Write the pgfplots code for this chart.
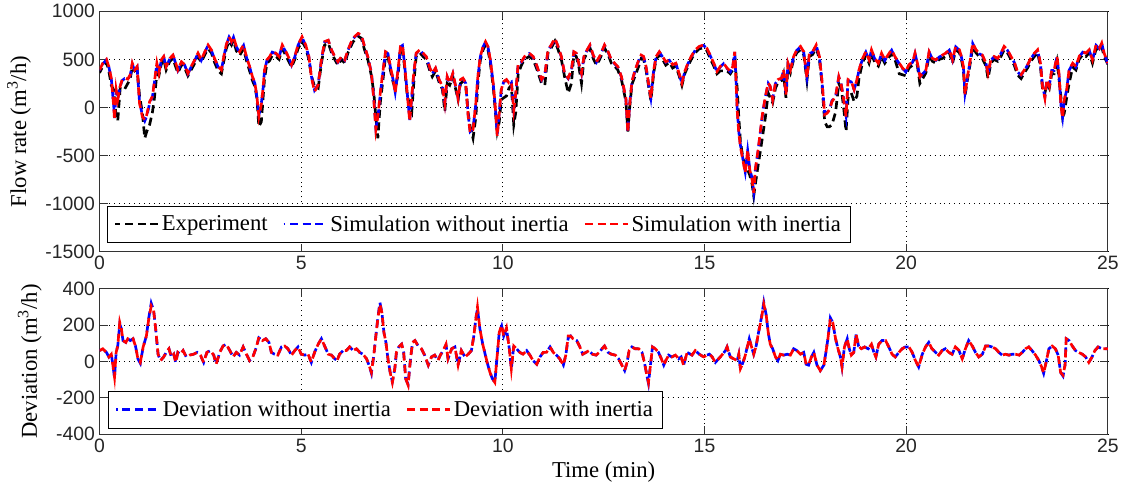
\documentclass[border=0pt]{standalone}
\usepackage{fontspec}
\setmainfont{Liberation Serif}
\newfontfamily\tickfont{Liberation Sans}
\usepackage{pgfplots}
\pgfplotsset{compat=1.18}
\usepackage{pgfplotstable}

% flow rate: t (min), experiment, simulation without / with inertia
\pgfplotstableread{
t exp sim0 sim1
0.00 360 385 390
0.08 430 455 460
0.17 470 495 500
0.23 380 420 425
0.29 230 300 305
0.35 180 20 10
0.37 100 -110 -130
0.41 -100 170 185
0.45 -140 90 80
0.51 200 220 220
0.56 180 280 290
0.62 190 300 305
0.70 250 290 295
0.76 300 335 340
0.81 420 450 460
0.87 380 385 390
0.93 400 420 425
0.99 120 60 45
1.06 -50 -80 -95
1.12 -320 -140 -130
1.17 -250 -90 -75
1.24 -180 40 60
1.31 -50 110 115
1.36 100 260 270
1.42 350 450 460
1.47 330 350 355
1.53 450 490 495
1.59 500 525 530
1.65 390 420 425
1.74 480 505 510
1.82 510 540 545
1.89 420 455 460
1.94 360 385 390
2.03 440 470 475
2.11 410 440 445
2.19 330 350 355
2.27 390 420 425
2.36 460 490 495
2.44 530 560 565
2.52 470 490 495
2.61 550 575 580
2.69 610 645 650
2.77 570 595 600
2.85 470 505 510
2.94 380 420 425
3.02 350 385 390
3.08 480 525 530
3.14 610 645 650
3.21 690 730 735
3.27 650 680 685
3.32 700 730 735
3.39 590 630 635
3.47 540 575 580
3.57 610 645 650
3.64 490 525 530
3.72 380 420 425
3.79 280 315 320
3.85 220 250 255
3.90 100 110 115
3.95 -200 -80 -95
4.01 -150 40 30
4.05 80 180 185
4.09 300 385 390
4.15 460 490 495
4.22 490 525 530
4.28 540 575 580
4.37 530 560 565
4.45 500 525 530
4.53 610 645 650
4.62 540 575 580
4.70 470 505 510
4.76 420 440 445
4.84 500 525 530
4.92 610 645 650
5.02 690 730 735
5.11 620 645 650
5.19 500 525 530
5.25 330 330 320
5.33 220 180 165
5.42 200 240 235
5.50 460 490 495
5.58 650 680 685
5.67 670 695 700
5.75 570 595 600
5.83 500 525 530
5.91 440 470 475
6.00 500 525 530
6.08 460 490 495
6.16 570 595 600
6.28 680 715 720
6.41 740 765 770
6.49 720 750 755
6.57 600 630 635
6.65 500 525 530
6.74 330 360 355
6.80 150 100 80
6.85 -100 -210 -230
6.90 -320 -110 -95
6.96 50 140 150
7.03 300 380 390
7.09 540 575 580
7.15 530 560 565
7.21 390 420 425
7.28 260 285 290
7.33 200 160 150
7.40 340 380 390
7.46 600 630 635
7.51 620 645 650
7.56 430 455 460
7.62 160 190 185
7.69 0 -130 -145
7.74 -50 100 115
7.79 250 345 355
7.85 530 560 565
7.94 570 595 600
8.02 530 560 565
8.10 500 525 530
8.19 380 405 410
8.25 320 350 355
8.33 380 405 410
8.42 260 285 290
8.50 190 215 220
8.56 -40 50 45
8.62 250 315 320
8.68 230 250 255
8.76 320 350 355
8.83 190 215 220
8.89 80 100 95
8.95 250 285 290
9.01 270 300 305
9.08 220 250 255
9.14 -60 -80 -95
9.19 -200 -250 -265
9.26 -320 -220 -230
9.33 -100 40 45
9.38 250 315 320
9.44 490 525 530
9.51 600 630 635
9.57 650 680 685
9.63 600 630 635
9.69 460 490 495
9.76 220 250 255
9.81 -20 15 10
9.86 -250 -280 -300
9.91 -150 -50 -60
9.96 80 180 185
10.02 100 265 270
10.09 120 285 290
10.15 200 250 255
10.21 230 265 270
10.27 -180 -20 -25
10.32 -50 145 150
10.38 350 455 460
10.46 440 470 475
10.54 500 525 530
10.65 530 560 565
10.75 500 525 530
10.85 390 420 425
10.96 250 285 290
11.04 230 335 340
11.12 570 595 600
11.20 620 645 650
11.29 690 715 720
11.37 600 630 635
11.45 500 525 530
11.53 320 350 355
11.62 150 300 305
11.70 250 385 390
11.76 550 575 580
11.82 530 560 565
11.89 410 440 445
11.95 250 350 355
12.01 500 525 530
12.09 570 595 600
12.16 620 645 650
12.24 510 540 545
12.32 440 470 475
12.40 500 525 530
12.52 620 645 650
12.61 550 575 580
12.69 460 490 495
12.77 430 455 460
12.85 390 420 425
12.94 290 315 320
12.99 190 215 220
13.05 60 90 95
13.10 -250 -260 -265
13.14 -20 20 10
13.20 240 265 270
13.28 330 385 390
13.37 430 490 495
13.43 510 540 545
13.49 500 525 530
13.55 390 420 425
13.61 230 250 255
13.67 70 100 95
13.74 360 385 390
13.80 500 525 530
13.88 550 575 580
13.96 500 525 530
14.04 440 470 475
14.13 470 490 495
14.21 410 440 445
14.29 430 455 460
14.37 330 350 355
14.44 230 250 255
14.51 350 370 375
14.59 430 455 460
14.67 500 525 530
14.77 570 595 600
14.87 610 630 635
14.98 620 645 650
15.06 590 610 615
15.14 510 540 545
15.23 430 455 460
15.31 350 370 375
15.39 380 420 425
15.47 380 455 460
15.56 380 405 410
15.64 350 370 375
15.70 390 420 425
15.75 540 575 580
15.78 350 300 290
15.81 200 -10 -25
15.85 -100 -250 -265
15.89 -350 -390 -405
15.95 -520 -530 -545
16.01 -620 -670 -680
16.07 -650 -450 -440
16.12 -700 -630 -645
16.18 -800 -740 -750
16.22 -920 -870 -890
16.26 -800 -650 -645
16.33 -600 -450 -440
16.39 -440 -240 -230
16.44 -300 -70 -60
16.51 -100 110 115
16.58 150 250 255
16.63 100 215 220
16.69 50 90 80
16.76 200 250 255
16.82 260 285 290
16.91 280 300 305
16.96 350 385 390
17.02 100 140 130
17.07 430 455 460
17.13 360 385 390
17.21 500 525 530
17.29 570 595 600
17.38 600 630 635
17.46 550 575 580
17.54 280 320 305
17.60 530 560 565
17.68 550 575 580
17.77 620 645 650
17.85 500 525 530
17.91 260 285 290
17.98 -150 -60 -75
18.04 -200 -50 -60
18.10 -200 -20 -25
18.16 -180 70 60
18.25 -50 110 115
18.33 250 315 320
18.39 200 240 235
18.45 0 90 80
18.51 -250 -80 -95
18.56 100 280 290
18.64 150 265 270
18.71 60 185 185
18.78 120 285 290
18.83 300 385 390
18.92 470 505 510
19.00 540 575 580
19.08 460 490 495
19.14 560 595 600
19.22 470 505 510
19.31 430 455 460
19.39 530 560 565
19.47 460 490 495
19.55 510 540 545
19.64 560 595 600
19.72 500 525 530
19.83 350 455 460
19.91 340 405 410
19.99 330 370 375
20.07 410 440 445
20.16 440 470 475
20.22 530 560 565
20.28 430 455 460
20.34 250 315 320
20.41 300 350 355
20.49 360 385 390
20.57 540 575 580
20.65 480 505 510
20.74 460 490 495
20.82 500 525 530
20.90 510 540 545
20.98 530 560 565
21.07 570 595 600
21.15 460 490 495
21.23 600 630 635
21.32 570 595 600
21.37 500 525 530
21.42 390 420 425
21.46 120 150 130
21.52 290 315 320
21.59 460 490 495
21.65 630 665 670
21.73 570 595 600
21.81 530 560 565
21.89 510 540 545
21.98 430 455 460
22.03 300 350 355
22.10 460 490 495
22.18 500 525 530
22.27 480 505 510
22.35 530 560 565
22.43 600 630 635
22.51 570 595 600
22.60 500 525 530
22.68 440 470 475
22.76 340 370 375
22.85 300 335 340
22.93 360 385 390
23.01 410 440 445
23.09 480 505 510
23.18 530 560 565
23.26 570 595 600
23.33 430 455 460
23.38 200 230 220
23.44 150 110 95
23.49 250 285 290
23.55 200 230 220
23.61 350 385 390
23.67 350 385 390
23.74 480 525 530
23.79 300 340 355
23.84 100 20 10
23.88 -100 -100 -110
23.92 -60 70 80
23.98 100 180 185
24.04 250 385 390
24.13 420 455 460
24.21 390 420 425
24.29 500 525 530
24.38 550 575 580
24.46 530 560 565
24.54 570 595 600
24.62 460 490 495
24.71 610 645 650
24.79 590 610 615
24.85 630 665 670
24.91 530 560 565
25.00 450 455 460
}\flowdata

% deviation: t (min), without / with inertia
\pgfplotstableread{
t dev0 dev1
0.00 60 60
0.08 70 70
0.17 50 50
0.23 25 25
0.29 40 40
0.33 -20 -20
0.37 -90 -85
0.41 50 50
0.45 85 85
0.50 205 215
0.54 180 180
0.58 115 115
0.65 105 105
0.70 125 125
0.76 115 115
0.83 125 125
0.89 85 85
0.95 15 15
1.01 -10 -5
1.08 80 80
1.16 140 140
1.22 240 235
1.28 320 305
1.34 280 280
1.39 180 180
1.45 40 40
1.51 5 5
1.59 25 25
1.65 50 50
1.72 70 70
1.78 25 25
1.84 40 40
1.89 -5 -5
1.94 50 50
2.00 40 40
2.07 60 60
2.15 25 25
2.23 35 35
2.33 40 40
2.42 50 50
2.50 35 35
2.58 -5 -5
2.66 50 50
2.75 60 60
2.83 35 35
2.89 -15 -15
2.98 50 50
3.06 85 85
3.14 95 95
3.23 60 60
3.31 25 25
3.39 50 50
3.47 35 35
3.56 80 80
3.64 40 40
3.72 5 5
3.80 25 25
3.89 80 80
3.95 130 135
4.04 115 115
4.12 125 125
4.20 105 105
4.26 50 50
4.34 40 40
4.42 35 35
4.51 80 80
4.59 85 85
4.67 70 70
4.76 35 35
4.84 60 60
4.92 80 80
5.00 40 40
5.09 35 35
5.17 40 40
5.25 -5 -5
5.33 50 50
5.42 95 95
5.50 125 125
5.58 85 85
5.67 40 40
5.75 35 35
5.83 15 15
5.89 5 5
5.95 40 40
6.04 60 60
6.12 60 60
6.20 80 80
6.29 60 60
6.37 70 70
6.45 50 50
6.53 40 40
6.62 15 15
6.68 -20 -20
6.74 -65 -60
6.80 35 35
6.85 140 140
6.90 240 235
6.95 325 315
7.00 270 270
7.05 160 160
7.10 105 105
7.15 15 15
7.21 -65 -65
7.26 -110 -115
7.32 -40 -40
7.36 50 50
7.42 80 80
7.49 95 95
7.54 50 50
7.59 -95 -95
7.65 -125 -130
7.71 15 15
7.76 105 105
7.82 115 115
7.90 85 85
7.98 70 70
8.06 35 35
8.15 -20 -20
8.23 25 25
8.31 35 35
8.39 5 5
8.45 35 35
8.52 60 60
8.59 90 95
8.64 15 15
8.73 70 70
8.81 80 80
8.89 -20 -20
8.97 60 60
9.06 25 25
9.14 40 40
9.22 60 60
9.28 140 140
9.33 235 235
9.37 290 300
9.43 180 180
9.50 95 95
9.55 50 50
9.61 -5 -5
9.68 -60 -60
9.74 -95 -95
9.80 -115 -115
9.86 35 35
9.91 160 160
9.97 195 200
10.02 140 140
10.09 180 185
10.16 70 70
10.21 -40 -40
10.27 85 85
10.34 70 70
10.42 50 50
10.50 40 40
10.59 60 60
10.67 35 35
10.75 5 5
10.84 -15 -15
10.92 25 25
11.00 50 50
11.08 50 50
11.17 80 80
11.25 50 50
11.33 35 35
11.41 15 15
11.50 -20 -20
11.56 35 35
11.62 130 140
11.68 140 140
11.74 125 125
11.83 115 115
11.91 80 80
11.98 40 40
12.06 50 50
12.14 60 60
12.22 40 40
12.31 35 35
12.39 50 50
12.46 70 70
12.52 85 85
12.61 50 50
12.69 40 40
12.79 35 35
12.87 15 15
12.95 -20 -20
13.02 -50 -50
13.08 -5 -5
13.13 60 60
13.20 80 80
13.28 70 70
13.37 70 70
13.45 50 50
13.51 -5 -5
13.57 -75 -75
13.61 -120 -115
13.66 -20 -20
13.71 80 80
13.78 70 70
13.86 50 50
13.93 15 15
13.99 -20 -20
14.04 5 5
14.11 35 35
14.19 25 25
14.28 35 35
14.36 15 15
14.42 25 25
14.48 -20 -20
14.57 50 50
14.69 35 35
14.77 60 60
14.87 40 40
14.98 25 25
15.06 35 35
15.12 40 40
15.19 25 25
15.27 -5 -5
15.35 15 15
15.43 35 35
15.52 60 60
15.56 80 80
15.64 25 25
15.72 15 15
15.81 5 5
15.85 40 40
15.89 -40 -40
15.93 -20 -20
16.00 25 25
16.05 70 70
16.11 125 125
16.16 85 85
16.22 40 40
16.28 85 85
16.34 160 160
16.41 240 235
16.47 325 315
16.53 255 255
16.58 160 160
16.63 95 95
16.69 70 70
16.76 25 25
16.82 5 5
16.88 40 40
16.96 35 35
17.05 40 40
17.13 35 35
17.21 70 70
17.29 60 60
17.38 40 40
17.46 50 50
17.52 -15 -15
17.58 -20 -20
17.65 25 25
17.71 50 50
17.79 -20 -20
17.87 -50 -50
17.96 -20 -20
18.01 50 50
18.06 125 125
18.12 240 235
18.18 215 215
18.25 125 125
18.31 70 70
18.37 25 25
18.41 -30 -30
18.47 80 80
18.54 125 125
18.59 70 70
18.64 35 35
18.70 50 50
18.76 150 150
18.82 85 85
18.89 70 70
18.97 80 80
19.06 70 70
19.14 95 95
19.20 50 50
19.25 25 25
19.32 95 95
19.40 115 115
19.49 115 115
19.57 80 80
19.65 40 40
19.73 25 25
19.82 50 50
19.90 70 70
19.98 80 80
20.07 80 80
20.15 50 50
20.23 5 5
20.31 -30 -30
20.40 40 40
20.48 80 80
20.56 105 105
20.64 70 70
20.73 50 50
20.81 35 35
20.89 60 60
20.97 70 70
21.06 50 50
21.14 40 40
21.22 80 80
21.31 60 60
21.39 15 15
21.47 70 70
21.55 115 115
21.64 85 85
21.72 50 50
21.80 25 25
21.89 40 40
21.97 85 85
22.05 85 85
22.13 80 80
22.22 70 70
22.30 50 50
22.38 35 35
22.46 40 40
22.55 35 35
22.63 40 40
22.71 40 40
22.80 35 35
22.88 50 50
22.96 70 70
23.04 80 80
23.12 60 60
23.21 35 35
23.29 5 5
23.36 -30 -30
23.41 -65 -65
23.47 -5 -5
23.54 70 70
23.62 85 85
23.70 70 70
23.77 35 35
23.83 -60 -60
23.89 -80 -75
23.94 -20 -20
23.97 125 125
24.04 115 115
24.12 85 85
24.20 60 60
24.28 50 50
24.37 40 40
24.45 25 25
24.53 -5 -5
24.61 25 25
24.68 60 60
24.76 80 80
24.86 70 70
25.00 70 70
}\devdata

\pgfplotsset{
  matlab/.style={
    scale only axis, width=755pt,
    xmin=0, xmax=25, xtick={0,5,...,25},
    tick align=inside, tick pos=both, major tick length=6pt,
    axis line style={black!80, line width=0.8pt},
    every tick/.style={black!80, line width=0.8pt},
    grid=major,
    major grid style={black, line width=0.7pt, dash pattern=on 0.7pt off 3pt},
    tick label style={font=\fontsize{14.5}{15}\selectfont\tickfont, text=black!85},
    /pgf/number format/assume math mode=true,
    /pgf/number format/1000 sep={},
    label style={font=\fontsize{17}{18}\selectfont},
    ylabel style={yshift=4pt},
    legend style={font=\fontsize{17}{18}\selectfont, draw=black, line width=0.6pt,
      legend columns=-1, inner xsep=5pt, inner ysep=5pt, anchor=south west,
      /tikz/every even column/.append style={column sep=9pt}},
    legend image code/.code={\draw[#1] (0pt,0pt) -- (32pt,0pt);},
    legend cell align=left,
  },
  dline/.style={line width=2pt, dash pattern=on 6pt off 3.5pt},
}

\begin{document}
\begin{tikzpicture}
\begin{axis}[matlab, name=top, height=180pt,
  ymin=-1500, ymax=1000, ytick={-1500,-1000,...,1000},
  ylabel={Flow rate (m\textsuperscript{3}/h)},
  legend style={at={(0.007,0.037)}}]
\addplot[black, dline, dash phase=2pt] table[x=t, y=exp] {\flowdata};
\addplot[blue, dline, dash phase=4.8pt] table[x=t, y=sim0] {\flowdata};
\addplot[red, dline] table[x=t, y=sim1] {\flowdata};
\legend{Experiment, Simulation without inertia, Simulation with inertia}
\end{axis}
\begin{axis}[matlab, at={(top.south west)}, anchor=north west, yshift=-27.75pt, height=109pt,
  ymin=-400, ymax=400, ytick={-400,-200,...,400},
  xlabel={Time (min)},
  ylabel={Deviation (m\textsuperscript{3}/h)},
  legend style={at={(0.008,0.041)}}]
\addplot[blue, dline, dash phase=4.8pt] table[x=t, y=dev0] {\devdata};
\addplot[red, dline] table[x=t, y=dev1] {\devdata};
\legend{Deviation without inertia, Deviation with inertia}
\end{axis}
% a little white margin at the left, as in the reference
\path (top.outer north west) ++(-2pt,0pt);
\end{tikzpicture}
\end{document}
